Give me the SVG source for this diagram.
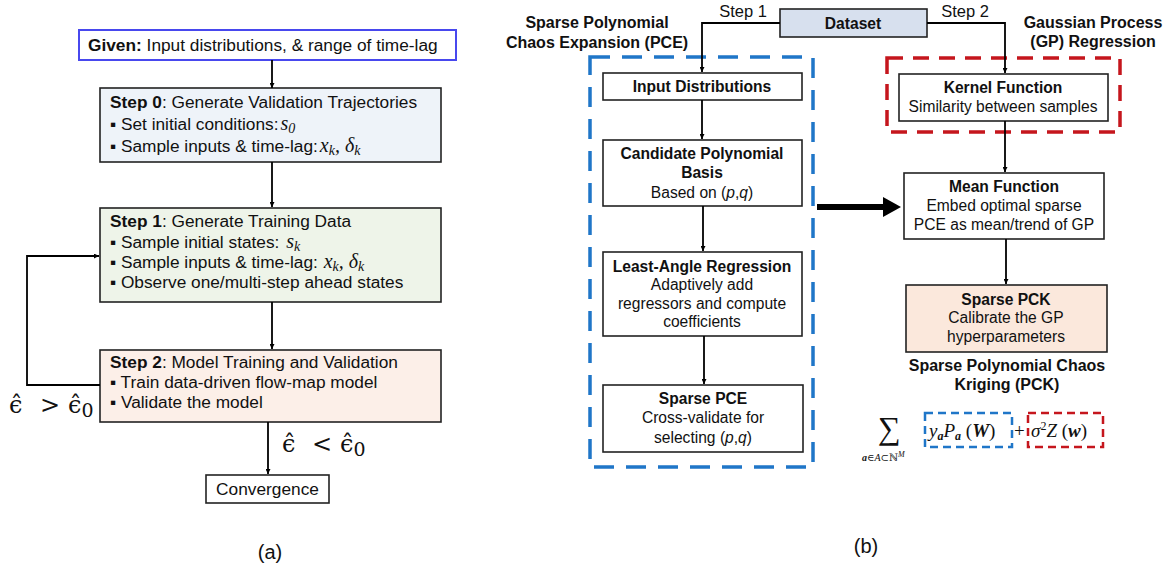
<svg xmlns="http://www.w3.org/2000/svg" width="1169" height="571" viewBox="0 0 1169 571">
<defs>
<marker id="ah" viewBox="0 0 10 10" refX="10" refY="5" markerWidth="5" markerHeight="5" markerUnits="userSpaceOnUse" orient="auto">
<path d="M0,0 L10,5 L0,10 z" fill="#000"/>
</marker>
<style>
.t{font-family:"Liberation Sans",Arial,sans-serif;fill:#111}
.l{font-size:17.3px}
.r{font-size:15.6px;text-anchor:middle}
.h{font-size:16px;font-weight:bold;text-anchor:middle}
.b{font-weight:bold}
.m{font-family:"Liberation Serif","DejaVu Serif",serif;font-style:italic}
.s{font-family:"Liberation Serif","DejaVu Serif",serif;fill:#111}
.e{font-family:"DejaVu Serif",serif;fill:#111;font-size:24px}
.box{stroke:#222;stroke-width:1.6}
.c{fill:none;stroke:#000;stroke-width:1.8}
.bd{fill:none;stroke:#1f76c8;stroke-width:3.5;stroke-dasharray:20 12}
.rd{fill:none;stroke:#c5161d;stroke-width:3.5;stroke-dasharray:16 10}
</style>
</defs>
<rect width="1169" height="571" fill="#fff"/>

<!-- Panel (a) -->
<g id="given">
<rect x="79" y="30" width="377" height="30" fill="#fff" stroke="#4848ee" stroke-width="2"/>
<text class="t l" x="88" y="51"><tspan class="b">Given:</tspan> Input distributions, &amp; range of time-lag</text>
</g>
<g id="step0">
<rect class="box" x="100" y="88" width="341" height="74" fill="#eef3f9"/>
<text class="t l" x="110" y="108"><tspan class="b">Step 0</tspan>: Generate Validation Trajectories</text>
<text class="t l" x="110" y="130">▪  Set initial conditions:<tspan class="m" font-size="20" dx="2">s</tspan><tspan class="m" font-size="14" dy="3" font-style="normal">0</tspan></text>
<text class="t l" x="110" y="152">▪  Sample inputs &amp; time-lag:<tspan class="m" font-size="20" dx="2">x</tspan><tspan class="m" font-size="14" dy="3">k</tspan><tspan class="m" font-size="20" dy="-3" font-style="normal">, </tspan><tspan class="m" font-size="20">δ</tspan><tspan class="m" font-size="14" dy="3">k</tspan></text>
</g>
<g id="step1">
<rect class="box" x="100" y="208" width="341" height="94" fill="#eef4e9"/>
<text class="t l" x="110" y="227"><tspan class="b">Step 1</tspan>: Generate Training Data</text>
<text class="t l" x="110" y="248">▪  Sample initial states: <tspan class="m" font-size="20" dx="2">s</tspan><tspan class="m" font-size="14" dy="3">k</tspan></text>
<text class="t l" x="110" y="268">▪  Sample inputs &amp; time-lag: <tspan class="m" font-size="20" dx="1">x</tspan><tspan class="m" font-size="14" dy="3">k</tspan><tspan class="m" font-size="20" dy="-3" font-style="normal">, </tspan><tspan class="m" font-size="20">δ</tspan><tspan class="m" font-size="14" dy="3">k</tspan></text>
<text class="t l" x="110" y="288">▪  Observe one/multi-step ahead states</text>
</g>
<g id="step2">
<rect class="box" x="100" y="350" width="341" height="72" fill="#fcefe8"/>
<text class="t l" x="110" y="368"><tspan class="b">Step 2</tspan>: Model Training and Validation</text>
<text class="t l" x="110" y="388">▪  Train data-driven flow-map model</text>
<text class="t l" x="110" y="408">▪  Validate the model</text>
</g>
<g id="convergence">
<rect class="box" x="206" y="475" width="123" height="28" fill="#fff"/>
<text class="t l" x="267.5" y="495" text-anchor="middle">Convergence</text>
</g>
<g id="labels-a">
<text class="e" y="413"><tspan x="9">ϵ̂</tspan><tspan x="40">&gt;</tspan><tspan x="68">ϵ̂</tspan><tspan font-size="19" dy="4">0</tspan></text>
<text class="e" y="452"><tspan x="282">ϵ̂</tspan><tspan x="312">&lt;</tspan><tspan x="340">ϵ̂</tspan><tspan font-size="19" dy="4">0</tspan></text>
<text class="t" x="270" y="559" font-size="20" text-anchor="middle">(a)</text>
</g>

<!-- Panel (b) -->
<g id="pce-group">
<rect class="bd" x="590" y="57" width="223" height="410"/>
<text class="t h" x="597" y="28">Sparse Polynomial</text>
<text class="t h" x="597" y="48">Chaos Expansion (PCE)</text>
</g>
<g id="gp-group">
<rect class="rd" x="887" y="58" width="233" height="74"/>
<text class="t h" x="1093" y="28">Gaussian Process</text>
<text class="t h" x="1093" y="47">(GP) Regression</text>
</g>
<g id="dataset">
<rect class="box" x="780" y="9" width="147" height="28" fill="#d7e0ee"/>
<text class="t r b" x="853" y="29">Dataset</text>
</g>
<g id="input-dist">
<rect class="box" x="603" y="73" width="199" height="27" fill="#fff"/>
<text class="t r b" x="702" y="92">Input Distributions</text>
</g>
<g id="candidate">
<rect class="box" x="603" y="140" width="199" height="66" fill="#fff"/>
<text class="t r b" x="702" y="159">Candidate Polynomial</text>
<text class="t r b" x="702" y="178">Basis</text>
<text class="t r" x="702" y="198">Based on (<tspan font-style="italic">p</tspan>,<tspan font-style="italic">q</tspan>)</text>
</g>
<g id="lar">
<rect class="box" x="603" y="252" width="199" height="84" fill="#fff"/>
<text class="t r b" x="702" y="272">Least-Angle Regression</text>
<text class="t r" x="702" y="290">Adaptively add</text>
<text class="t r" x="702" y="309">regressors and compute</text>
<text class="t r" x="702" y="327">coefficients</text>
</g>
<g id="sparse-pce">
<rect class="box" x="603" y="385" width="200" height="67" fill="#fff"/>
<text class="t r b" x="703" y="404">Sparse PCE</text>
<text class="t r" x="703" y="423">Cross-validate for</text>
<text class="t r" x="703" y="443">selecting (<tspan font-style="italic">p</tspan>,<tspan font-style="italic">q</tspan>)</text>
</g>
<g id="kernel">
<rect class="box" x="899" y="74" width="209" height="47" fill="#fff"/>
<text class="t r b" x="1003" y="93">Kernel Function</text>
<text class="t r" x="1003" y="112">Similarity between samples</text>
</g>
<g id="mean">
<rect class="box" x="904" y="173" width="200" height="66" fill="#fff"/>
<text class="t r b" x="1004" y="192">Mean Function</text>
<text class="t r" x="1004" y="211">Embed optimal sparse</text>
<text class="t r" x="1004" y="230">PCE as mean/trend of GP</text>
</g>
<g id="sparse-pck">
<rect class="box" x="906" y="285" width="201" height="67" fill="#fbe8dc"/>
<text class="t r b" x="1006" y="305">Sparse PCK</text>
<text class="t r" x="1006" y="323">Calibrate the GP</text>
<text class="t r" x="1006" y="342">hyperparameters</text>
<text class="t h" x="1007" y="371">Sparse Polynomial Chaos</text>
<text class="t h" x="1007" y="390">Kriging (PCK)</text>
</g>
<g id="formula">
<text class="s" x="878" y="439" font-size="32">∑</text>
<text class="s" x="862" y="461" font-size="10"><tspan font-weight="bold" font-style="italic">a</tspan>∈<tspan font-style="italic">A</tspan>⊂ℕ<tspan font-size="8" dy="-4" font-style="italic">M</tspan></text>
<rect x="925" y="413" width="87" height="34" fill="none" stroke="#1f76c8" stroke-width="2.5" stroke-dasharray="8 5"/>
<rect x="1028" y="413" width="75" height="34" fill="none" stroke="#c5161d" stroke-width="2.5" stroke-dasharray="8 5"/>
<text class="s" x="929" y="437" font-size="19"><tspan font-style="italic">y</tspan><tspan font-size="12" dy="3" font-weight="bold" font-style="italic">a</tspan><tspan font-style="italic" dy="-3">P</tspan><tspan font-size="12" dy="3" font-weight="bold" font-style="italic">a</tspan><tspan dy="-3"> (</tspan><tspan font-weight="bold" font-style="italic">W</tspan>)</text>
<text class="s" x="1014" y="437" font-size="19">+</text>
<text class="s" x="1031" y="437" font-size="19"><tspan font-style="italic">σ</tspan><tspan font-size="12" dy="-7">2</tspan><tspan font-style="italic" dy="7">Z</tspan> (<tspan font-weight="bold" font-style="italic">w</tspan>)</text>
</g>
<g id="labels-b">
<text class="t" x="743" y="17" font-size="16.5" text-anchor="middle">Step 1</text>
<text class="t" x="965" y="17" font-size="16.5" text-anchor="middle">Step 2</text>
<text class="t" x="866" y="553" font-size="20" text-anchor="middle">(b)</text>
</g>

<g id="connectors">
<path class="c" d="M272,60 V88" marker-end="url(#ah)"/>
<path class="c" d="M272,162 V207" marker-end="url(#ah)"/>
<path class="c" d="M272,302 V349" marker-end="url(#ah)"/>
<path class="c" d="M100,385 H27 V256 H99" marker-end="url(#ah)"/>
<path class="c" d="M268,422 V474" marker-end="url(#ah)"/>
<path class="c" d="M780,23 H702 V72" marker-end="url(#ah)"/>
<path class="c" d="M927,23 H1005 V73" marker-end="url(#ah)"/>
<path class="c" d="M702,100 V139" marker-end="url(#ah)"/>
<path class="c" d="M703,206 V251" marker-end="url(#ah)"/>
<path class="c" d="M704,336 V384" marker-end="url(#ah)"/>
<path class="c" d="M1005,121 V172" marker-end="url(#ah)"/>
<path class="c" d="M1006,239 V284" marker-end="url(#ah)"/>
<path d="M817,207 H885" stroke="#000" stroke-width="6" fill="none"/>
<path d="M883,197 L901,207 L883,217 z" fill="#000"/>
</g>
</svg>
